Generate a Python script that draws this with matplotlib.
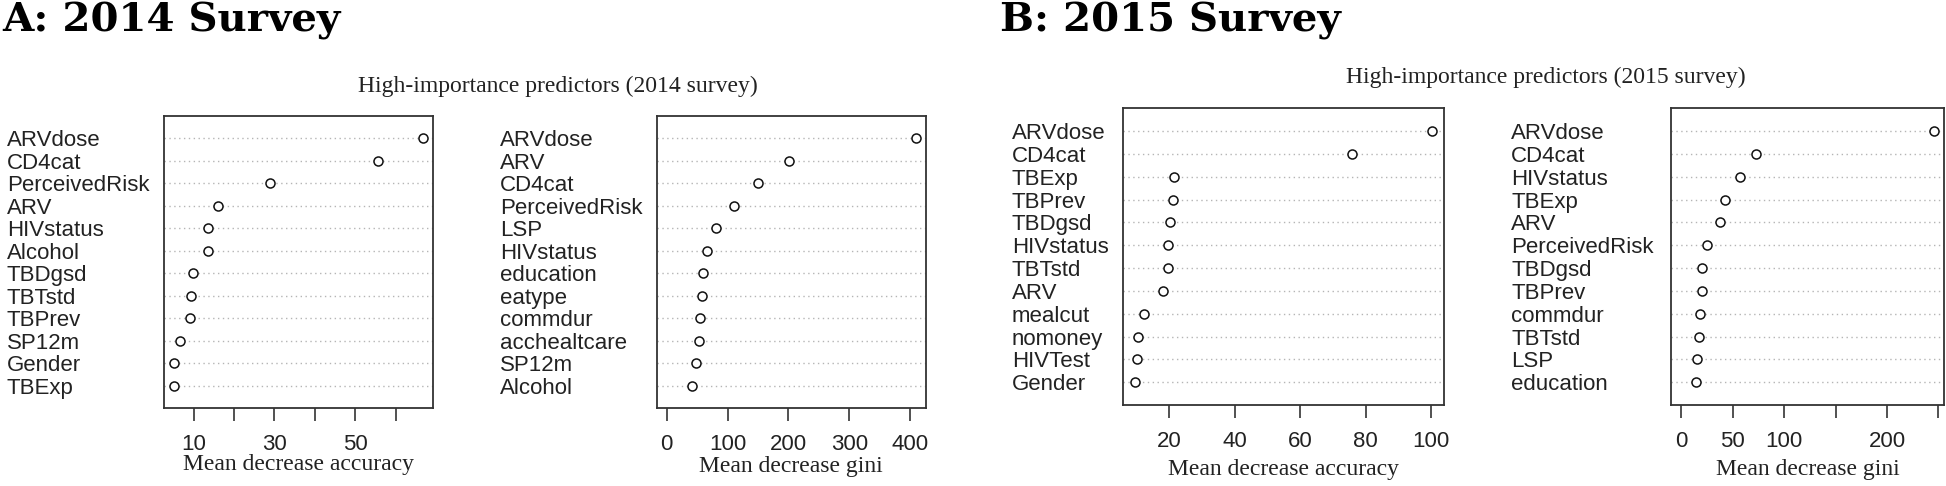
import matplotlib
matplotlib.use("Agg")
import matplotlib.pyplot as plt
from matplotlib.transforms import blended_transform_factory

# variable importance (top row first)
vars_14_acc = ["ARVdose", "CD4cat", "PerceivedRisk", "ARV", "HIVstatus", "Alcohol",
               "TBDgsd", "TBTstd", "TBPrev", "SP12m", "Gender", "TBExp"]
acc_14 = [66.8, 55.6, 28.9, 16.0, 13.5, 13.5, 9.7, 9.3, 9.0, 6.6, 5.1, 5.1]

vars_14_gini = ["ARVdose", "ARV", "CD4cat", "PerceivedRisk", "LSP", "HIVstatus",
                "education", "eatype", "commdur", "acchealtcare", "SP12m", "Alcohol"]
gini_14 = [409.4, 201.4, 150.4, 111.4, 81.3, 67.0, 60.4, 57.6, 55.5, 53.3, 48.9, 41.8]

vars_15_acc = ["ARVdose", "CD4cat", "TBExp", "TBPrev", "TBDgsd", "HIVstatus",
               "TBTstd", "ARV", "mealcut", "nomoney", "HIVTest", "Gender"]
acc_15 = [100.4, 76.0, 21.6, 21.2, 20.4, 19.6, 19.6, 18.2, 12.5, 10.4, 10.3, 9.6]

vars_15_gini = ["ARVdose", "CD4cat", "HIVstatus", "TBExp", "ARV", "PerceivedRisk",
                "TBDgsd", "TBPrev", "commdur", "TBTstd", "LSP", "education"]
gini_15 = [245.9, 72.6, 57.3, 42.1, 37.9, 25.3, 19.8, 19.8, 18.5, 16.9, 15.5, 14.2]

W, H = 1946, 486
fig = plt.figure(figsize=(W / 100, H / 100), dpi=100)

SANS = "Liberation Sans"
SERIF = "Liberation Serif"
TXT = "#222222"


def dotplot(box, names, vals, gini, ticks, ticklabels, label_x, xlabel, xlabel_y):
    l, r, t, b = box
    ax = fig.add_axes([l / W, 1 - b / H, (r - l) / W, (b - t) / H])
    n = len(vals)
    ys = list(range(n, 0, -1))
    # R style: range expanded by 4%, gini starts at 0
    lo = 0 if gini else min(vals)
    hi = max(vals)
    pad = 0.04 * (hi - lo)
    ax.set_xlim(lo - pad, hi + pad)
    ax.set_ylim(0, n + 1)
    for y in ys:
        ax.axhline(y, color="#b5b5b5", lw=1.0, ls=(0, (1, 2.5)), zorder=1)
    ax.plot(vals, ys, ls="none", marker="o", ms=6.5, mfc="white", mec="#111111",
            mew=1.1, zorder=3)
    ax.set_yticks([])
    ax.set_xticks(ticks)
    ax.set_xticklabels(ticklabels, fontsize=16, family=SANS, color=TXT)
    ax.tick_params(axis="x", length=9.5, width=1.2, pad=9, color="#333333")
    for s in ax.spines.values():
        s.set_linewidth(1.3)
        s.set_color("#333333")
    tr = blended_transform_factory(fig.transFigure, ax.transData)
    for name, y in zip(names, ys):
        ax.text(label_x / W, y, name, transform=tr, ha="left", va="center_baseline",
                fontsize=16, family=SANS, color=TXT, clip_on=False)
    tr2 = blended_transform_factory(ax.transAxes, fig.transFigure)
    ax.text(0.5, 1 - xlabel_y / H, xlabel, transform=tr2, ha="center", va="baseline",
            fontsize=17, family=SERIF, color=TXT)
    return ax


dotplot((164, 433, 116, 408), vars_14_acc, acc_14, False,
        [10, 20, 30, 40, 50, 60], ["10", "", "30", "", "50", ""],
        6.7, "Mean decrease accuracy", 470)
dotplot((656.7, 925.7, 116, 408), vars_14_gini, gini_14, True,
        [0, 100, 200, 300, 400], ["0", "100", "200", "300", "400"],
        500, "Mean decrease gini", 472)
dotplot((1123, 1444.3, 108.3, 405), vars_15_acc, acc_15, False,
        [20, 40, 60, 80, 100], ["20", "40", "60", "80", "100"],
        1011.7, "Mean decrease accuracy", 475)
dotplot((1671.3, 1944.3, 108.3, 405), vars_15_gini, gini_15, True,
        [0, 50, 100, 150, 200, 250], ["0", "50", "100", "", "200", ""],
        1511, "Mean decrease gini", 475)

# panel headings and titles
fig.text(2 / W, 1 - 32 / H, "A: 2014 Survey", fontsize=29, family="DejaVu Serif",
         weight="bold", ha="left", va="baseline", color="black")
fig.text(1000 / W, 1 - 32 / H, "B: 2015 Survey", fontsize=29, family="DejaVu Serif",
         weight="bold", ha="left", va="baseline", color="black")
fig.text(558 / W, 1 - 91.7 / H, "High-importance predictors (2014 survey)", fontsize=17,
         family=SERIF, ha="center", va="baseline", color=TXT)
fig.text(1545.5 / W, 1 - 83.3 / H, "High-importance predictors (2015 survey)", fontsize=17,
         family=SERIF, ha="center", va="baseline", color=TXT)

fig.savefig("out.png", dpi=100, facecolor="white")
